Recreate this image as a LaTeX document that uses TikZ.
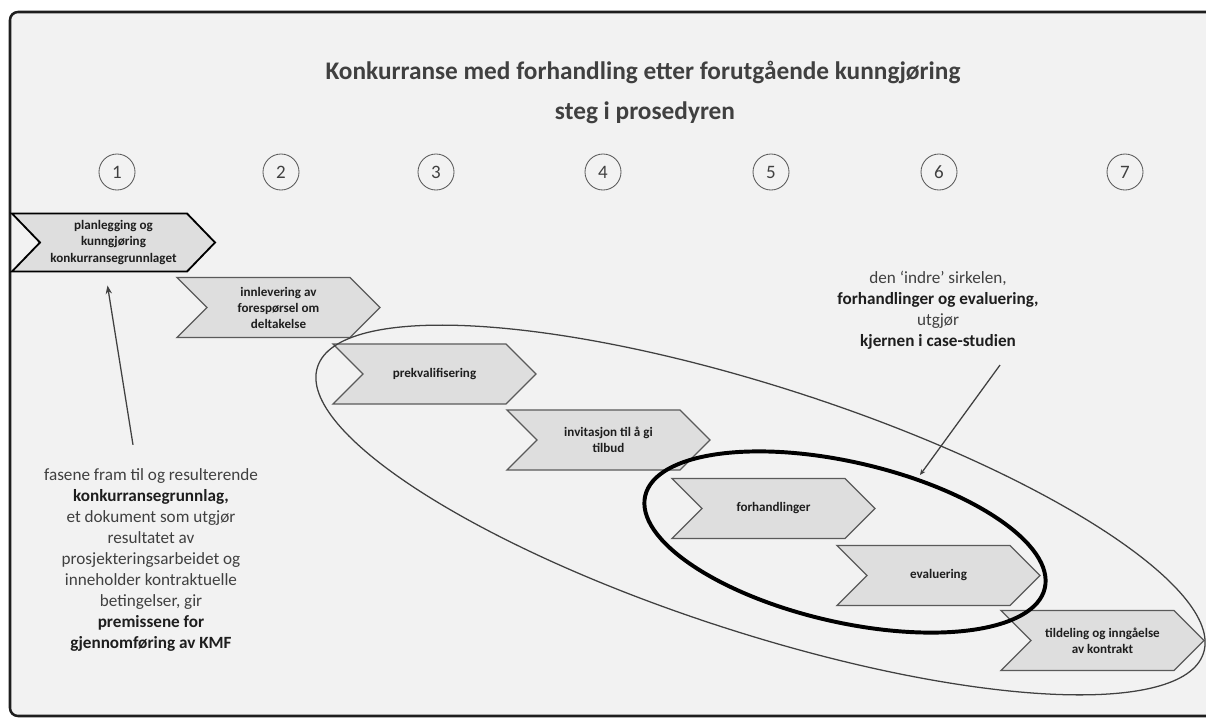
\documentclass[tikz,border=0pt]{standalone}
\usepackage{fontspec}
\setmainfont{Carlito}
\usetikzlibrary{shapes.geometric,arrows.meta,backgrounds}

\definecolor{framebg}{HTML}{F2F2F2}
\definecolor{chevfill}{HTML}{DEDEDE}
\definecolor{chevline}{HTML}{5A5A5A}
\definecolor{txtgray}{HTML}{404040}
\definecolor{txtdark}{HTML}{1E1E1E}

\tikzset{
  steptext/.style={minimum width=5.075cm, minimum height=1.5cm, inner sep=0pt, outer sep=0pt,
    align=center, text=txtdark, font=\bfseries\fontsize{9.3}{11.4}\selectfont},
  chev/.style={fill=chevfill, draw=chevline, line width=0.9pt, line join=miter},
  stepnum/.style={circle, draw=chevline, line width=0.6pt, minimum size=0.9cm, inner sep=0pt,
    text=txtgray, font=\fontsize{13.5}{16}\selectfont},
  heading/.style={text=txtdark!85, font=\bfseries\fontsize{18}{21}\selectfont},
  note/.style={align=center, text=txtgray, font=\fontsize{12.2}{14.9}\selectfont},
  ring/.style={ellipse, inner sep=0pt, outer sep=0pt},
}
\newcommand{\hl}[1]{\textbf{\color{txtdark}#1}}

\begin{document}
\begin{tikzpicture}[x=0.025cm, y=-0.025cm, >={Stealth[length=6pt,width=4.5pt]}]
    \useasboundingbox (0,0) rectangle (1206,718);

    % Overskrift
    \node[heading] (title) at (643,72) {Konkurranse med forhandling etter forutgående kunngjøring};
    \node[heading] (subtitle) at (645,113) {steg i prosedyren};

    % Nummer for hvert steg
    \node[stepnum] (n1) at (117,172) {1};
    \node[stepnum] (n2) at (281,172) {2};
    \node[stepnum] (n3) at (436,172) {3};
    \node[stepnum] (n4) at (603,172) {4};
    \node[stepnum] (n5) at (771,172) {5};
    \node[stepnum] (n6) at (939,172) {6};
    \node[stepnum] (n7) at (1125,172) {7};

    % Stegene i prosedyren
    \node[steptext, minimum height=1.45cm] (plan) at (113.5,242.5) {planlegging og\\kunngjøring\\konkurransegrunnlaget};
    \node[steptext] (innlev) at (278.5,307.5) {innlevering av\\forespørsel om\\deltakelse};
    \node[steptext] (prekval) at (434.5,374) {prekvalifisering};
    \node[steptext] (invit) at (608.5,440) {invitasjon til å gi\\tilbud};
    \node[steptext] (forh) at (773.5,508.5) {forhandlinger};
    \node[steptext] (eval) at (938.5,575.5) {evaluering};
    \node[steptext] (tildel) at (1102.5,640.5) {tildeling og inngåelse\\av kontrakt};

    % Ytre og indre sirkel
    \node[ring, draw=txtgray, line width=0.9pt, minimum width=23.27cm, minimum height=6.15cm, rotate=-17.9] (outerring) at (760.5,510) {};
    \node[ring, draw=black, line width=2.8pt, minimum width=10.25cm, minimum height=4cm, rotate=-13] (innerring) at (845,542) {};

    % Forklaringer
    \node[note] (leftnote) at (151,560) {fasene fram til og resulterende\\
        \hl{konkurransegrunnlag,}\\
        et dokument som utgjør\\
        resultatet av\\
        prosjekteringsarbeidet og\\
        inneholder kontraktuelle\\
        betingelser, gir\\
        \hl{premissene for}\\
        \hl{gjennomføring av KMF}};
    \node[note] (rightnote) at (938,310) {den ‘indre’ sirkelen,\\
        \hl{forhandlinger og evaluering,}\\
        utgjør\\
        \hl{kjernen i case-studien}};

    \coordinate (ringhit) at (920,475);
    \draw[->, draw=txtgray, line width=0.9pt] ([shift={(-18,-19)}]leftnote.north) -- ([shift={(-6,14)}]plan.south);
    \draw[-{Stealth[length=4pt,width=3.5pt]}, draw=txtgray, line width=0.9pt] ([shift={(62,11)}]rightnote.south) -- (ringhit);

    % Ramme og piler i bakgrunnen
    \begin{scope}[on background layer]
        \draw[line width=1.8pt, draw=txtdark, fill=framebg, rounded corners=0.2cm] (10,12) rectangle (1240,716);
        \draw[chev, draw=black, line width=1.3pt] (plan.north west) -- ([shift={(-28,0)}]plan.north east) -- (plan.east)
            -- ([shift={(-28,0)}]plan.south east) -- (plan.south west) -- ([shift={(28,0)}]plan.west) -- cycle;
        \foreach \s in {innlev,prekval,invit,forh,eval,tildel}
            \draw[chev] (\s.north west) -- ([shift={(-30,0)}]\s.north east) -- (\s.east)
                -- ([shift={(-30,0)}]\s.south east) -- (\s.south west) -- ([shift={(30,0)}]\s.west) -- cycle;
    \end{scope}
\end{tikzpicture}
\end{document}
